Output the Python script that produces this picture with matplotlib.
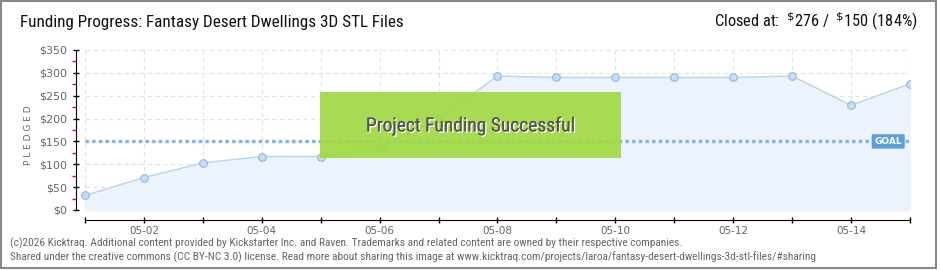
import matplotlib.pyplot as plt
from matplotlib import font_manager
from matplotlib.patches import Rectangle
import matplotlib.patheffects as pe

# data
days = ['05-01', '05-02', '05-03', '05-04', '05-05', '05-06', '05-07', '05-08',
        '05-09', '05-10', '05-11', '05-12', '05-13', '05-14', '05-15']
pledged = [32, 71, 103, 117, 117, 136, 200, 293, 290, 290, 290, 290, 293, 229, 276]
goal = 150
y_ticks = [0, 50, 100, 150, 200, 250, 300, 350]
y_minor = [25, 75, 125, 175, 225, 275, 325]

# pick a narrow face if one is around
names = sorted({f.name for f in font_manager.fontManager.ttflist})
narrow_name = None
for want in ['Liberation Sans Narrow', 'Roboto Condensed', 'Open Sans Condensed',
             'DejaVu Sans Condensed', 'Noto Sans Condensed']:
    if want in names:
        narrow_name = want
        break
if narrow_name is None:
    cands = [n for n in names if 'Condensed' in n or 'Narrow' in n]
    narrow_name = cands[0] if cands else 'Liberation Sans'
narrow = [narrow_name, 'DejaVu Sans']
is_narrow = narrow_name != 'Liberation Sans'

x = list(range(len(days)))

fig = plt.figure(figsize=(9.4, 2.7), dpi=100)
ax = fig.add_axes([76/940, 50/270, (910-76)/940, 170/270])
ax.set_xlim(-9/58.93, 14)
ax.set_ylim(-21.9, 350)

# grid
ax.hlines(y_ticks, 0, 14, colors='#e2e2e2', linestyles=(0, (4, 3)), lw=0.8, zorder=0)
ax.vlines(x, 0, 350, colors='#e2e2e2', linestyles=(0, (4, 3)), lw=0.8, zorder=0)

# pledged area
ax.fill_between(x, pledged, 0, color='#ebf3fc', zorder=1)
ax.plot(x, pledged, color='#b7d4f2', lw=1, zorder=2)
ax.plot(x, pledged, 'o', ms=5.5, mfc='#c5ddf6', mec='#98b6d8', mew=0.8, zorder=3)

# goal line
ax.plot([0, 14], [goal, goal], color='#7fb2e6', lw=2.4, linestyle=(0, (1, 1)), zorder=4)
ax.text(13.63, goal, 'GOAL', color='white', fontsize=6.5, fontweight='bold',
        ha='center', va='center', zorder=6,
        bbox=dict(boxstyle='round,pad=0.3,rounding_size=0.15', fc='#5b9fe2', ec='none'))

# success banner
ax.add_patch(Rectangle((3.99, 114), 5.11, 144, fc='#a0d943', ec='none', alpha=0.92, zorder=5))
ax.text(6.55, 183, 'Project Funding Successful', color='#555555',
        fontsize=14 if is_narrow else 11.5,
        family=narrow, ha='center', va='center', zorder=6,
        path_effects=[pe.withSimplePatchShadow(offset=(1, -1), shadow_rgbFace='white', alpha=1),
                      pe.Normal()])

# axes styling
for s in ['top', 'right']:
    ax.spines[s].set_visible(False)
ax.spines['left'].set_bounds(0, 350)
ax.spines['bottom'].set_bounds(0, 14)

ax.set_yticks(y_ticks)
ax.set_yticklabels(['$%d' % v for v in y_ticks], color='#666666', fontsize=8)
ax.set_yticks(y_minor, minor=True)
ax.tick_params(axis='y', which='major', direction='inout', length=5, width=1, pad=4)
ax.tick_params(axis='y', which='minor', direction='out', length=3, width=1, color='red')

ax.set_xticks(x)
ax.set_xticklabels([d if i % 2 == 1 else '' for i, d in enumerate(days)],
                   color='#666666', fontsize=7.5)
ax.tick_params(axis='x', direction='inout', length=5, width=1, pad=2)

ax.set_ylabel('P L E D G E D', color='#666666', fontsize=6.5, labelpad=4)

# header
fig.text(20/940, 1 - 22/270, 'Funding Progress: Fantasy Desert Dwellings 3D STL Files',
         fontsize=12.3 if is_narrow else 10.5, family=narrow, color='#111111',
         va='center', ha='left')
fig.text(918/940, 1 - 22/270, r'Closed at:  $^{\$}$276 /  $^{\$}$150 (184%)',
         fontsize=11.8 if is_narrow else 10, family=narrow, color='#111111',
         va='center', ha='right')

# footer
foot_size = 8.2 if is_narrow else 6.4
fig.text(10/940, 1 - 243/270,
         '(c)2026 Kicktraq. Additional content provided by Kickstarter Inc. and Raven. '
         'Trademarks and related content are owned by their respective companies.',
         fontsize=foot_size, family=narrow, color='#666666', va='center')
fig.text(10/940, 1 - 257/270,
         'Shared under the creative commons (CC BY-NC 3.0) license. Read more about sharing this image at '
         'www.kicktraq.com/projects/laroa/fantasy-desert-dwellings-3d-stl-files/#sharing',
         fontsize=foot_size, family=narrow, color='#666666', va='center')

# frame
fig.patches.append(Rectangle((0.5/940, 2/270), 935/940, 267/270, transform=fig.transFigure,
                             fill=False, ec='#888888', lw=1.5))

fig.savefig('out.png', dpi=100)
